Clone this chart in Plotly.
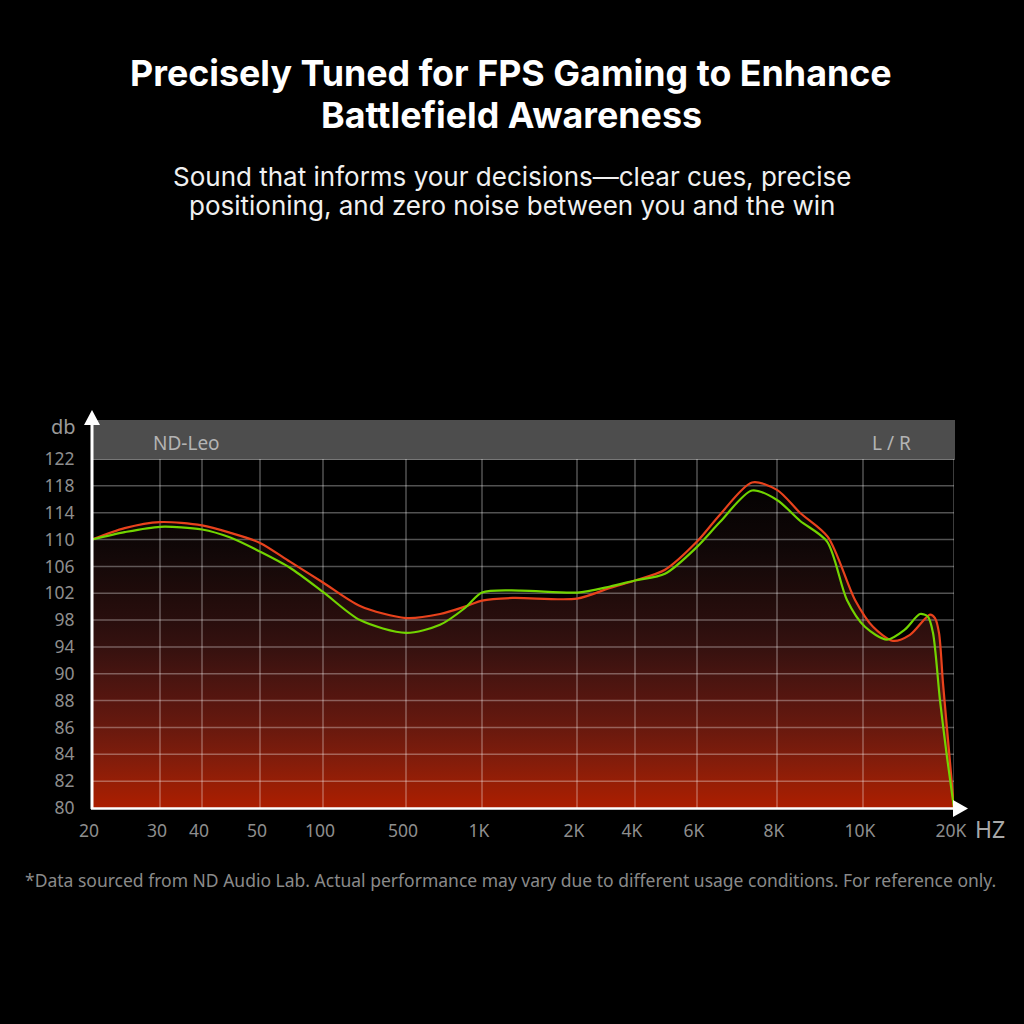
import numpy as np
import plotly.graph_objects as go

# ---------------- data ----------------
TICK_HZ = [20, 30, 40, 50, 100, 500, 1000, 2000, 4000, 6000, 8000, 10000, 20000]
TICK_HZ_TEXT = ["20", "30", "40", "50", "100", "500", "1K", "2K", "4K", "6K", "8K", "10K", "20K"]
TICK_DB = [80, 82, 84, 86, 88, 90, 94, 98, 102, 106, 110, 114, 118, 122]

# Right channel (red)
freq_r = [20, 24.3, 30, 40, 44.6, 50, 69.5, 100, 205, 500, 682, 856, 1000, 1250, 2000, 2967,
          4000, 4867, 6000, 6516, 7313, 8000, 8491, 9128, 9795, 10792, 12570, 14300, 16660,
          17300, 17840, 18390, 19110, 20000]
db_r = [110.0, 111.7, 112.6, 112.1, 111.0, 109.5, 106.7, 103.6, 100.1, 98.3, 98.9, 100.0, 100.9,
        101.3, 101.2, 102.8, 103.9, 105.5, 109.7, 113.7, 118.5, 117.4, 114.0, 110.4, 101.0,
        97.0, 94.9, 95.8, 98.8, 98.3, 96.1, 89.3, 85.1, 80.0]

# Left channel (green)
freq_l = [20, 24.3, 30, 40, 44.6, 50, 69.5, 100, 205, 500, 682, 856, 1000, 1320, 2000, 2967,
          4000, 4867, 6000, 6516, 7313, 8000, 8491, 9110, 9592, 10150, 12010, 13770, 15430,
          16400, 17040, 17980, 18960, 20000]
db_l = [110.0, 111.1, 111.9, 111.5, 110.3, 108.2, 105.8, 102.2, 98.0, 96.1, 97.3, 99.8, 102.1,
        102.4, 102.1, 103.0, 103.9, 104.9, 108.9, 112.6, 117.3, 115.9, 112.8, 109.7, 101.0,
        97.0, 95.1, 96.6, 98.9, 98.5, 96.1, 88.0, 83.8, 80.0]

# ---------------- layout constants (styling, not data) ----------------
GRID_X = [0, 68, 110, 168, 231, 314, 390, 485, 543, 605, 685, 771, 862]  # stylised tick spacing
W = H = 1024
L, R, T, B = 92, 70, 459, 216
PW, PH = W - L - R, H - T - B


def fx(f):
    return np.interp(np.log10(np.asarray(f, float)), np.log10(TICK_HZ), GRID_X)


def fy(d):
    return np.interp(np.asarray(d, float), TICK_DB, np.arange(len(TICK_DB)))


def px(x):
    return (x - L) / PW


def py(y):
    return (H - B - y) / PH


fig = go.Figure()

# gradient fill under the red curve
fig.add_trace(go.Scatter(
    x=fx(freq_r), y=fy(db_r), mode="lines", line=dict(width=0, shape="spline", smoothing=0.8),
    fill="tozeroy",
    fillgradient=dict(
        type="vertical", start=0, stop=12,
        colorscale=[
            [0.0, "rgb(172,30,0)"], [0.08, "rgb(150,30,6)"], [0.17, "rgb(124,28,12)"],
            [0.25, "rgb(104,25,14)"], [0.33, "rgb(88,22,15)"], [0.42, "rgb(70,20,16)"],
            [0.5, "rgb(53,17,15)"], [0.58, "rgb(41,14,13)"], [0.67, "rgb(31,11,10)"],
            [0.75, "rgb(22,9,9)"], [0.83, "rgb(14,6,6)"], [1.0, "rgb(4,2,2)"],
        ]),
    hoverinfo="skip", showlegend=False))

# grid drawn above the fill
gx, gy = [], []
for v in GRID_X[1:]:
    gx += [v, v, None]
    gy += [0, len(TICK_DB) - 1, None]
for i in range(1, len(TICK_DB)):
    gx += [0, GRID_X[-1], None]
    gy += [i, i, None]
fig.add_trace(go.Scatter(x=gx, y=gy, mode="lines",
                         line=dict(color="rgba(255,255,255,0.32)", width=1.5),
                         hoverinfo="skip", showlegend=False))

fig.add_trace(go.Scatter(x=fx(freq_r), y=fy(db_r), mode="lines", name="R",
                         line=dict(color="#e8421c", width=2.2, shape="spline", smoothing=0.8),
                         hoverinfo="skip", showlegend=False))
fig.add_trace(go.Scatter(x=fx(freq_l), y=fy(db_l), mode="lines", name="L",
                         line=dict(color="#72d400", width=2.2, shape="spline", smoothing=0.8),
                         hoverinfo="skip", showlegend=False))

shapes = [
    # header band
    dict(type="rect", xref="paper", yref="paper", x0=px(92), x1=px(955), y0=py(460), y1=py(420),
         fillcolor="#4d4d4d", line=dict(width=0), layer="below"),
    # y axis line + arrow
    dict(type="line", xref="paper", yref="paper", x0=px(92), x1=px(92), y0=py(809), y1=py(422),
         line=dict(color="white", width=3)),
    dict(type="path", xref="paper", yref="paper",
         path=f"M {px(92)} {py(410)} L {px(84)} {py(425)} L {px(100)} {py(425)} Z",
         fillcolor="white", line=dict(width=0)),
    # x axis line + arrow
    dict(type="line", xref="paper", yref="paper", x0=px(91), x1=px(955), y0=py(808.5), y1=py(808.5),
         line=dict(color="white", width=2.5)),
    dict(type="path", xref="paper", yref="paper",
         path=f"M {px(968)} {py(808.5)} L {px(953)} {py(800)} L {px(953)} {py(817)} Z",
         fillcolor="white", line=dict(width=0)),
]

TITLE_FONT = "Inter, Lato, 'Open Sans', sans-serif"
ann = [
    dict(text="<b>Precisely Tuned for FPS Gaming to Enhance</b>",
         x=px(511), y=py(73), font=dict(family=TITLE_FONT, size=35.8, color="white")),
    dict(text="<b>Battlefield Awareness</b>",
         x=px(511), y=py(115), font=dict(family=TITLE_FONT, size=35.8, color="white")),
    dict(text="Sound that informs your decisions\u2014clear cues, precise",
         x=px(512), y=py(176), font=dict(family=TITLE_FONT, size=26, color="#f0f0f0")),
    dict(text="positioning, and zero noise between you and the win",
         x=px(512), y=py(206), font=dict(family=TITLE_FONT, size=26, color="#f0f0f0")),
    dict(text="*Data sourced from ND Audio Lab. Actual performance may vary due to different usage conditions. For reference only.",
         x=px(510), y=py(880), font=dict(family="'Noto Sans', sans-serif", size=17.5, color="#8a8a8a")),
    dict(text="ND-Leo", x=px(151), y=py(443), xanchor="left",
         font=dict(family="'Noto Sans', sans-serif", size=19, color="#b4b4b4")),
    dict(text="L / R", x=px(913), y=py(443), xanchor="right",
         font=dict(family="'Noto Sans', sans-serif", size=19, color="#b4b4b4")),
    dict(text="db", x=px(63), y=py(426),
         font=dict(family="'Noto Sans', sans-serif", size=20, color="#9a9a9a")),
    dict(text="HZ", x=px(990), y=py(829),
         font=dict(family="'Noto Sans', sans-serif", size=23, color="#a8a8a8")),
]
for a in ann:
    a.setdefault("xanchor", "center")
    a.update(xref="paper", yref="paper", yanchor="middle", showarrow=False)

fig.update_layout(
    width=W, height=H, margin=dict(l=L, r=R, t=T, b=B, pad=0),
    paper_bgcolor="black", plot_bgcolor="black",
    shapes=shapes, annotations=ann, showlegend=False,
    xaxis=dict(range=[0, GRID_X[-1]], tickvals=GRID_X, ticktext=TICK_HZ_TEXT,
               showgrid=False, zeroline=False, showline=False,
               ticks="outside", ticklen=7, tickcolor="rgba(0,0,0,0)", ticklabelshift=-3,
               tickfont=dict(family="'Noto Sans', sans-serif", size=17.5, color="#8e8e8e"),
               fixedrange=True),
    yaxis=dict(range=[0, len(TICK_DB) - 1], tickvals=list(range(len(TICK_DB))),
               ticktext=[str(v) for v in TICK_DB],
               showgrid=False, zeroline=False, showline=False,
               ticks="outside", ticklen=13, tickcolor="rgba(0,0,0,0)",
               tickfont=dict(family="'Noto Sans', sans-serif", size=17.5, color="#8e8e8e"),
               fixedrange=True),
)

fig.write_html("out.html", config={"displayModeBar": False},
               post_script="document.body.style.margin='0';document.body.style.background='black';")
